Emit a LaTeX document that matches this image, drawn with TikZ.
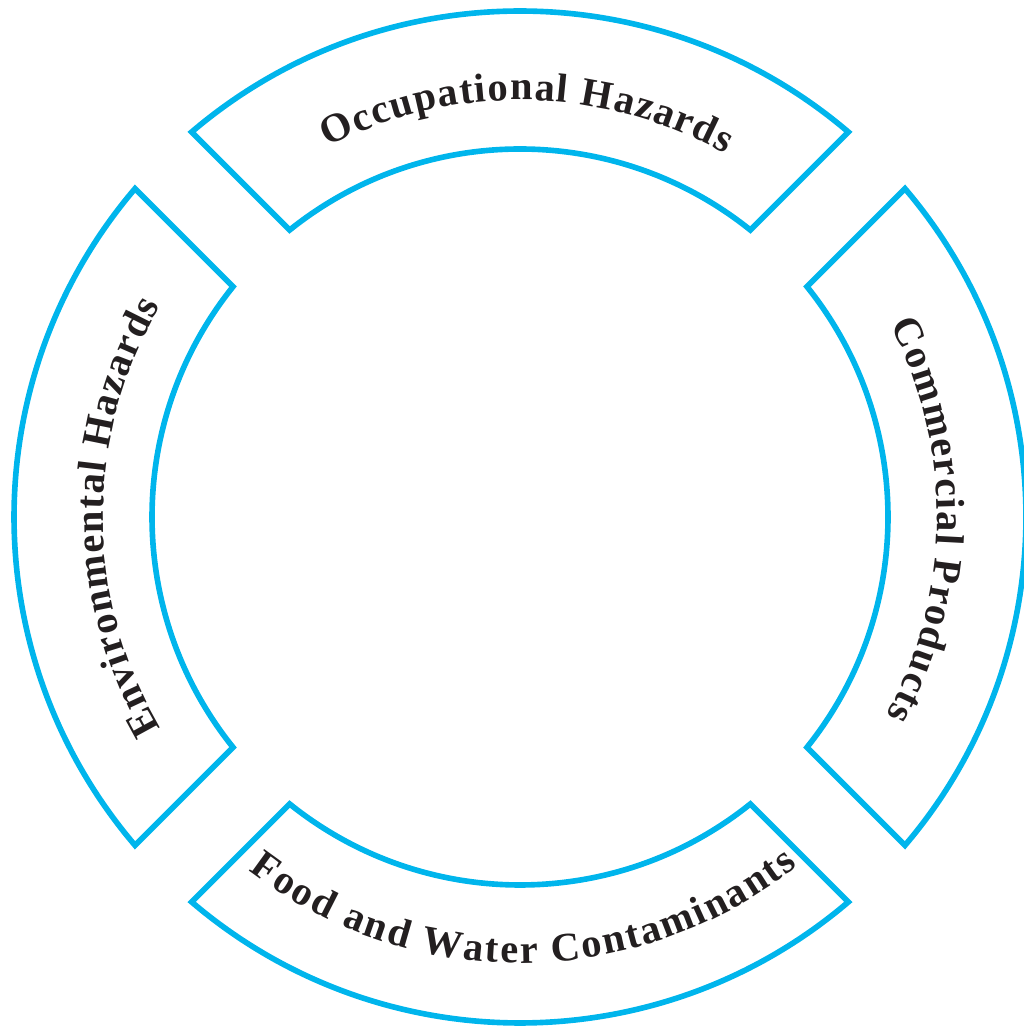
\documentclass[tikz,border=0pt]{standalone}
\usepackage{fontspec}
\setmainfont{Liberation Serif}
\usetikzlibrary{decorations.text}
\definecolor{ringblue}{RGB}{0,181,236}
\definecolor{labelgray}{RGB}{35,31,32}

\begin{document}
\begin{tikzpicture}[
    band/.style={draw=ringblue, line width=1.6pt, line join=miter},
    arclabel/.style={decorate, decoration={text along path, text align={fit to path},
      text={|\color{labelgray}\bfseries\fontsize{11.5}{13}\selectfont|#1}}}
  ]
      \useasboundingbox (-5.20,-5.09) rectangle (5.03,5.17);
      \pgfmathsetmacro{\Rout}{5.06}
      \pgfmathsetmacro{\Rin}{3.68}
      \pgfmathsetmacro{\aout}{asin(0.40/\Rout)}
      \pgfmathsetmacro{\ain}{asin(0.40/\Rin)}
      % four pieces of the ring
      \foreach \t in {90,0,-90,180} {
        \draw[band] (\t+45-\aout:\Rout) arc[start angle=\t+45-\aout, end angle=\t-45+\aout, radius=\Rout]
          -- (\t-45+\ain:\Rin) arc[start angle=\t-45+\ain, end angle=\t+45-\ain, radius=\Rin] -- cycle;
      }
      % labels along the arcs
      \path[arclabel={Occupational Hazards}] (117.5:4.17) arc[start angle=117.5, end angle=60.5, radius=4.17];
      \path[arclabel={Commercial Products}] (27.5:4.17) arc[start angle=27.5, end angle=-28.5, radius=4.17];
      \path[arclabel={Environmental Hazards}] (210.5:4.17) arc[start angle=210.5, end angle=149.5, radius=4.17];
      \path[arclabel={Food and Water Contaminants}] (232.5:4.46) arc[start angle=232.5, end angle=308.5, radius=4.46];
    \end{tikzpicture}
\end{document}
